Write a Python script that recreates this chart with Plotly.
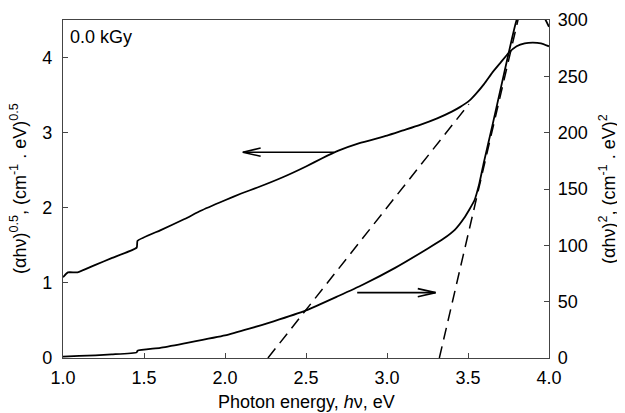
import plotly.graph_objects as go

# --- data ---
x_sqrt = [1.00, 1.03, 1.09, 1.20, 1.30, 1.455, 1.46, 1.60, 1.75, 1.85, 2.00, 2.10, 2.20,
          2.36, 2.50, 2.60, 2.70, 2.83, 3.00, 3.10, 3.20, 3.31, 3.40, 3.45, 3.51, 3.55, 3.60,
          3.65, 3.70, 3.75, 3.80, 3.85, 3.90, 3.95, 4.00]
y_sqrt = [1.075, 1.14, 1.14, 1.24, 1.33, 1.47, 1.56, 1.70, 1.85, 1.96, 2.10, 2.19, 2.27,
          2.41, 2.55, 2.66, 2.76, 2.86, 2.96, 3.03, 3.10, 3.19, 3.28, 3.34, 3.43, 3.52, 3.65,
          3.80, 3.93, 4.06, 4.15, 4.19, 4.20, 4.19, 4.15]

x_sq = [1.00, 1.10, 1.20, 1.30, 1.455, 1.46, 1.60, 1.75, 2.00, 2.15, 2.30, 2.50, 2.70,
        2.85, 3.05, 3.25, 3.35, 3.42, 3.475, 3.54, 3.57, 3.60, 3.65, 3.70, 3.75, 3.80, 3.85,
        3.90, 3.95, 4.00]
y_sq = [1.3, 1.8, 2.4, 3.2, 5.0, 6.5, 9.0, 13.0, 20.0, 26.0, 32.5, 42.2, 55.0,
        65.0, 80.0, 97.0, 106.0, 114.0, 124.0, 140.0, 155.0, 175.0, 206.0, 238.0, 270.0, 300.0, 316.0,
        318.0, 308.0, 294.0]

tan_sqrt_x = [2.265, 3.505]
tan_sqrt_y = [0.0, 3.38]
tan_sq_x = [3.323, 3.815]
tan_sq_y = [0.0, 304.0]

# arrows: tail -> tip
arrow_left_x = [2.672, 2.11]
arrow_left_y = [2.74, 2.74]
arrow_right_x = [2.816, 3.30]
arrow_right_y = [58.0, 58.0]

x_ticks = [1.0, 1.5, 2.0, 2.5, 3.0, 3.5, 4.0]
y_ticks_left = [0, 1, 2, 3, 4]
y_ticks_right = [0, 50, 100, 150, 200, 250, 300]

FONT = "Arial, Liberation Sans, sans-serif"
FS = 18
AX = "#444444"

fig = go.Figure()

line_style = dict(color="black", width=1.8)
dash_style = dict(color="black", width=1.5, dash="12px,7px")

fig.add_trace(go.Scatter(x=x_sqrt, y=y_sqrt, mode="lines", line=dict(line_style, shape="spline", smoothing=0.4),
                         yaxis="y", showlegend=False, hoverinfo="skip"))
fig.add_trace(go.Scatter(x=tan_sqrt_x, y=tan_sqrt_y, mode="lines", line=dash_style,
                         yaxis="y", showlegend=False, hoverinfo="skip"))
fig.add_trace(go.Scatter(x=x_sq, y=y_sq, mode="lines", line=dict(line_style, shape="spline", smoothing=0.5),
                         yaxis="y2", showlegend=False, hoverinfo="skip"))
fig.add_trace(go.Scatter(x=tan_sq_x, y=tan_sq_y, mode="lines", line=dash_style,
                         yaxis="y2", showlegend=False, hoverinfo="skip"))

# arrow shafts + open narrow heads (head size in axis units)
HEAD_L = 0.11          # eV
HEAD_H_LEFT = 0.055    # left axis units
HEAD_H_RIGHT = 3.6     # right axis units


def arrow_path(xs, ys, hh):
    tip_x, tip_y = xs[1], ys[1]
    d = 1 if xs[0] > xs[1] else -1
    px = [xs[0], tip_x, None, tip_x + d * HEAD_L, tip_x, tip_x + d * HEAD_L]
    py = [ys[0], tip_y, None, tip_y + hh, tip_y, tip_y - hh]
    return px, py


ax_, ay_ = arrow_path(arrow_left_x, arrow_left_y, HEAD_H_LEFT)
fig.add_trace(go.Scatter(x=ax_, y=ay_, mode="lines", line=dict(color="black", width=1.6),
                         yaxis="y", showlegend=False, hoverinfo="skip"))
bx_, by_ = arrow_path(arrow_right_x, arrow_right_y, HEAD_H_RIGHT)
fig.add_trace(go.Scatter(x=bx_, y=by_, mode="lines", line=dict(color="black", width=1.6),
                         yaxis="y2", showlegend=False, hoverinfo="skip"))

fig.add_annotation(text="0.0 kGy", xref="paper", yref="paper", x=0, y=1,
                   xanchor="left", yanchor="top", showarrow=False,
                   xshift=5, yshift=-5, font=dict(family=FONT, size=FS, color="black"))

# axis titles as annotations for precise placement
fig.add_annotation(text="Photon energy, <i>h</i>ν, eV", xref="paper", yref="paper",
                   x=0.5, y=0, yanchor="top", showarrow=False, yshift=-32,
                   font=dict(family=FONT, size=FS, color="black"))
fig.add_annotation(text="(αhν)<sup>0.5</sup>, (cm<sup>-1</sup> . eV)<sup>0.5</sup>",
                   xref="paper", yref="paper", x=0, y=0.5, textangle=-90,
                   xanchor="center", showarrow=False, xshift=-45,
                   font=dict(family=FONT, size=FS, color="black"))
fig.add_annotation(text="(αhν)<sup>2</sup>, (cm<sup>-1</sup> . eV)<sup>2</sup>",
                   xref="paper", yref="paper", x=1, y=0.5, textangle=-90,
                   xanchor="center", showarrow=False, xshift=58,
                   font=dict(family=FONT, size=FS, color="black"))

# the page body adds an 8px offset, so the figure is sized to compensate
fig.update_layout(
    width=617, height=405,
    margin=dict(l=55, r=76, t=12, b=55),
    paper_bgcolor="white", plot_bgcolor="white",
    font=dict(family=FONT, size=FS, color="black"),
    xaxis=dict(range=[1.0, 4.0], tickvals=x_ticks, ticktext=[f"{v:.1f}" for v in x_ticks],
               ticks="inside", ticklen=5, tickcolor=AX, showline=True, linecolor=AX,
               linewidth=1.2, mirror=True, showgrid=False, zeroline=False,
               automargin=False, ticklabelstandoff=3),
    yaxis=dict(range=[0, 4.5], tickvals=y_ticks_left, ticks="inside", ticklen=5,
               tickcolor=AX, showline=True, linecolor=AX, linewidth=1.2,
               showgrid=False, zeroline=False, automargin=False, ticklabelstandoff=6),
    yaxis2=dict(range=[0, 300], tickvals=y_ticks_right, ticks="inside", ticklen=5,
                tickcolor=AX, showline=True, linecolor=AX, linewidth=1.2,
                overlaying="y", side="right", showgrid=False, zeroline=False,
                automargin=False, ticklabelstandoff=4),
)

fig.write_html("out.html")
